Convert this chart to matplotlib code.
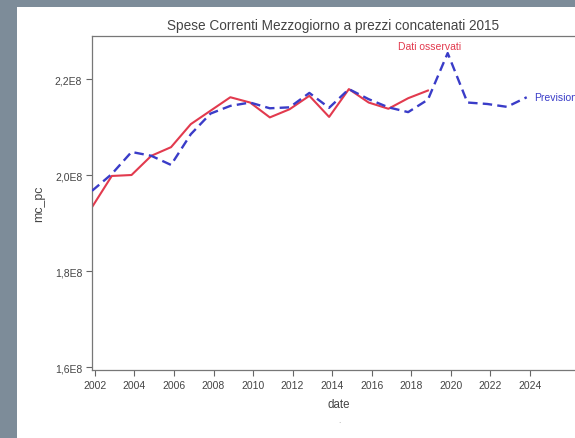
import numpy as np
import matplotlib.pyplot as plt
from matplotlib.patches import Rectangle
from matplotlib.ticker import FuncFormatter

plt.rcParams['font.family'] = ['Liberation Sans', 'DejaVu Sans']

# observed series (units of 1E8)
years_obs = list(range(2002, 2020))
mc_pc_obs = [1.933, 1.998, 2.000, 2.040, 2.058, 2.106, 2.134, 2.162, 2.151,
             2.120, 2.137, 2.165, 2.121, 2.179, 2.151, 2.138, 2.160, 2.176]

# fitted + forecast series (units of 1E8)
years_prev = list(range(2002, 2025))
mc_pc_prev = [1.967, 2.002, 2.048, 2.040, 2.021, 2.085, 2.128, 2.144, 2.151,
              2.139, 2.141, 2.171, 2.140, 2.179, 2.158, 2.141, 2.131, 2.157,
              2.254, 2.151, 2.148, 2.142, 2.162]

tick_years = list(range(2002, 2025, 2))
y_ticks = [1.6, 1.8, 2.0, 2.2]

obs = np.array(mc_pc_obs) * 1e8
prev = np.array(mc_pc_prev) * 1e8

fig = plt.figure(figsize=(5.75, 4.39), dpi=100, facecolor='#7d8c99')
# white sheet of the screenshot
fig.patches.append(Rectangle((17 / 575, 0), 1, 1 - 8 / 439, transform=fig.transFigure,
                             facecolor='white', edgecolor='none', zorder=-10))

ax = fig.add_axes([92 / 575, 68 / 439, 494 / 575, 334 / 439])
ax.set_facecolor('white')

ax.plot(years_obs, obs, color='#e23a4e', linewidth=1.5, zorder=2)
ax.plot(years_prev, prev, color='#3a3cc8', linewidth=1.7, dashes=(4, 2.2), zorder=3)

ax.annotate('Dati osservati', xy=(years_obs[-1], obs[-1]), xytext=(1, 32),
            textcoords='offset points', ha='center', va='center',
            color='#e23a4e', fontsize=7.5)
ax.annotate('Previsioni', xy=(years_prev[-1], prev[-1]), xytext=(5, 0),
            textcoords='offset points', ha='left', va='center',
            color='#3a3cc8', fontsize=7.5, annotation_clip=False)

ax.set_xlim(2002, 2027)
ax.set_ylim(1.59375e8, 2.2896e8)
# tick marks sit slightly right of the first data point in the original
ax.set_xticks([y + 0.15 for y in tick_years])
ax.set_xticklabels([str(y) for y in tick_years])
ax.set_yticks([v * 1e8 for v in y_ticks])
ax.yaxis.set_major_formatter(FuncFormatter(lambda v, p: f"{v / 1e8:.1f}E8".replace('.', ',')))

ax.tick_params(length=4, width=0.8, color='#666666', labelsize=7.5,
               labelcolor='#444444', pad=3)
for side in ['left', 'bottom', 'top', 'right']:
    ax.spines[side].set_color('#777777')
    ax.spines[side].set_linewidth(0.9)

ax.set_title('Spese Correnti Mezzogiorno a prezzi concatenati 2015',
             fontsize=9.8, color='#444444', pad=5, x=0.487)
ax.set_xlabel('date', fontsize=8.3, color='#444444', labelpad=6)
ax.set_ylabel('mc_pc', fontsize=8.8, color='#444444', labelpad=7)
fig.text(339 / 575, 1 - 423 / 439, '.', fontsize=6, color='#999999', ha='center')

fig.savefig('out.png', dpi=100, facecolor=fig.get_facecolor())
